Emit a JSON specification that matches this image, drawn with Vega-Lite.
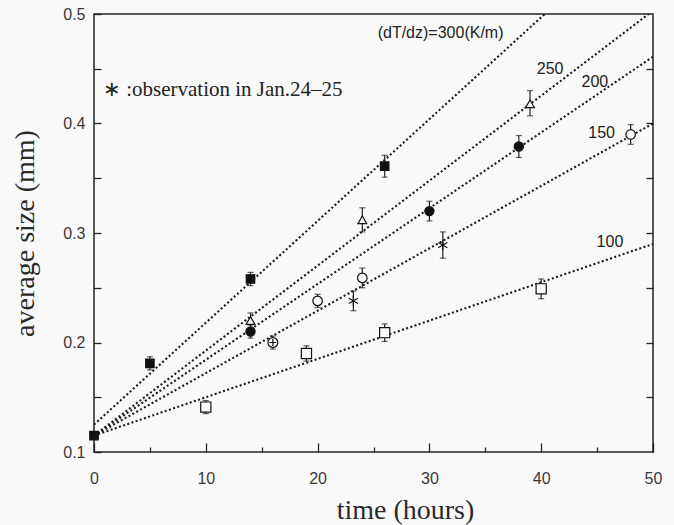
{
  "$schema": "https://vega.github.io/schema/vega-lite/v6.json",
  "width": 559,
  "height": 438,
  "autosize": "none",
  "padding": {"left": 94, "top": 14, "right": 21, "bottom": 73},
  "background": "#f9f9f9",
  "config": {
    "view": {"stroke": "#222", "strokeWidth": 1.5},
    "axis": {
      "domain": false,
      "grid": false,
      "labelFont": "Liberation Sans",
      "labelFontSize": 16,
      "labelColor": "#3a3a3a",
      "labelFlush": false,
      "labelOverlap": false,
      "tickColor": "#222",
      "tickWidth": 1.3,
      "titleFont": "Liberation Serif",
      "titleFontSize": 28,
      "titleFontWeight": "normal",
      "titleColor": "#2a2a2a"
    }
  },
  "datasets": {
    "lines": [
      {"g": "300", "x1": 0, "y1": 0.125, "x2": 50, "y2": 0.59},
      {"g": "250", "x1": 0, "y1": 0.115, "x2": 50, "y2": 0.503},
      {"g": "200", "x1": 0, "y1": 0.115, "x2": 50, "y2": 0.461},
      {"g": "150", "x1": 0, "y1": 0.115, "x2": 50, "y2": 0.40},
      {"g": "100", "x1": 0, "y1": 0.115, "x2": 50, "y2": 0.29}
    ],
    "pts": [
      {"x": 0, "y": 0.115, "lo": null, "hi": null, "s": "sq"},
      {"x": 5, "y": 0.181, "lo": 0.175, "hi": 0.187, "s": "sq"},
      {"x": 14, "y": 0.258, "lo": 0.252, "hi": 0.264, "s": "sq"},
      {"x": 26, "y": 0.361, "lo": 0.351, "hi": 0.371, "s": "sq"},
      {"x": 14, "y": 0.22, "lo": 0.213, "hi": 0.227, "s": "tri"},
      {"x": 24, "y": 0.312, "lo": 0.301, "hi": 0.323, "s": "tri"},
      {"x": 39, "y": 0.418, "lo": 0.407, "hi": 0.43, "s": "tri"},
      {"x": 14, "y": 0.21, "lo": 0.204, "hi": 0.216, "s": "dot"},
      {"x": 30, "y": 0.32, "lo": 0.311, "hi": 0.329, "s": "dot"},
      {"x": 38, "y": 0.379, "lo": 0.369, "hi": 0.389, "s": "dot"},
      {"x": 16, "y": 0.2, "lo": 0.194, "hi": 0.206, "s": "circplus"},
      {"x": 20, "y": 0.238, "lo": 0.232, "hi": 0.244, "s": "circ"},
      {"x": 24, "y": 0.259, "lo": 0.25, "hi": 0.268, "s": "circ"},
      {"x": 48, "y": 0.39, "lo": 0.381, "hi": 0.399, "s": "circ"},
      {"x": 10, "y": 0.141, "lo": 0.135, "hi": 0.147, "s": "sqo"},
      {"x": 19, "y": 0.19, "lo": 0.183, "hi": 0.197, "s": "sqo"},
      {"x": 26, "y": 0.209, "lo": 0.201, "hi": 0.217, "s": "sqo"},
      {"x": 40, "y": 0.249, "lo": 0.24, "hi": 0.258, "s": "sqo"},
      {"x": 23.2, "y": 0.238, "lo": 0.229, "hi": 0.247, "s": "ast"},
      {"x": 31.2, "y": 0.289, "lo": 0.277, "hi": 0.301, "s": "ast"}
    ],
    "labels": [
      {"x": 31.0, "y": 0.4826, "t": "(dT/dz)=300(K/m)"},
      {"x": 40.8, "y": 0.4498, "t": "250"},
      {"x": 44.8, "y": 0.4379, "t": "200"},
      {"x": 45.4, "y": 0.3913, "t": "150"},
      {"x": 46.15, "y": 0.2918, "t": "100"}
    ],
    "note": [
      {"x": 0.8, "y": 0.4306, "t": "∗ :observation in Jan.24–25"}
    ]
  },
  "layer": [
    {
      "data": {"name": "lines"},
      "mark": {"type": "rule", "clip": true, "strokeDash": [2, 2.4], "strokeWidth": 2.1, "color": "#1a1a1a"},
      "encoding": {
        "x": {
          "field": "x1", "type": "quantitative",
          "scale": {"domain": [0, 50], "nice": false, "zero": false},
          "axis": {
            "orient": "bottom", "values": [0, 10, 20, 30, 40, 50], "tickSize": -9, "labelPadding": 27,
            "title": "time (hours)", "titleX": 311, "titleY": 58, "titleBaseline": "middle", "titleAlign": "center"
          }
        },
        "y": {
          "field": "y1", "type": "quantitative",
          "scale": {"domain": [0.1, 0.5], "nice": false, "zero": false},
          "axis": {
            "orient": "left",
            "values": [0.1, 0.15, 0.2, 0.25, 0.3, 0.35, 0.4, 0.45, 0.5],
            "labelExpr": "abs(datum.value*10 - round(datum.value*10)) < 0.001 ? format(datum.value, '.1f') : ''",
            "tickSize": -7, "labelPadding": 16,
            "title": "average size (mm)", "titleX": -69, "titleY": 219, "titleAngle": -90,
            "titleBaseline": "middle", "titleAlign": "center"
          }
        },
        "x2": {"field": "x2"},
        "y2": {"field": "y2"}
      }
    },
    {
      "data": {"name": "pts"},
      "transform": [{"filter": "datum.lo != null"}],
      "mark": {"type": "errorbar", "color": "#222", "thickness": 1.2, "ticks": {"size": 6, "thickness": 1.2, "color": "#222"}},
      "encoding": {
        "x": {"field": "x", "type": "quantitative", "axis": null},
        "y": {"field": "lo", "type": "quantitative", "axis": null},
        "y2": {"field": "hi"}
      }
    },
    {
      "data": {"name": "pts"},
      "mark": {"type": "point", "filled": true, "stroke": "#111", "strokeWidth": 1.2, "opacity": 1},
      "encoding": {
        "x": {
          "field": "x", "type": "quantitative",
          "axis": {"orient": "bottom", "values": [5, 15, 25, 35, 45], "tickSize": -5, "labels": false, "title": null}
        },
        "y": {
          "field": "y", "type": "quantitative",
          "axis": {"orient": "right", "values": [0.15, 0.2, 0.25, 0.3, 0.35, 0.4, 0.45], "tickSize": -7, "labels": false, "title": null}
        },
        "shape": {
          "field": "s", "type": "nominal", "legend": null,
          "scale": {
            "domain": ["sq", "tri", "dot", "circ", "circplus", "sqo", "ast"],
            "range": ["square", "triangle-up", "circle", "circle", "M-1,0A1,1 0 1,1 1,0A1,1 0 1,1 -1,0ZM-0.7,0H0.7M0,-0.7V0.7", "square", "M0,-1V1M-0.87,-0.5L0.87,0.5M-0.87,0.5L0.87,-0.5"]
          }
        },
        "fill": {
          "field": "s", "type": "nominal", "legend": null,
          "scale": {
            "domain": ["sq", "tri", "dot", "circ", "circplus", "sqo", "ast"],
            "range": ["#111111", "#f9f9f9", "#111111", "#f9f9f9", "#f9f9f9", "#f9f9f9", "transparent"]
          }
        },
        "size": {
          "field": "s", "type": "nominal", "legend": null,
          "scale": {
            "domain": ["sq", "tri", "dot", "circ", "circplus", "sqo", "ast"],
            "range": [72, 110, 64, 72, 72, 66, 70]
          }
        }
      }
    },
    {
      "data": {"name": "labels"},
      "mark": {"type": "text", "font": "Liberation Sans", "fontSize": 16, "color": "#222", "align": "center", "baseline": "middle"},
      "encoding": {
        "x": {"field": "x", "type": "quantitative", "axis": null},
        "y": {"field": "y", "type": "quantitative", "axis": null},
        "text": {"field": "t"}
      }
    },
    {
      "data": {"name": "note"},
      "mark": {"type": "text", "font": "Liberation Serif", "fontSize": 21, "color": "#222", "align": "left", "baseline": "middle"},
      "encoding": {
        "x": {"field": "x", "type": "quantitative", "axis": null},
        "y": {"field": "y", "type": "quantitative", "axis": null},
        "text": {"field": "t"}
      }
    }
  ],
  "resolve": {"axis": {"x": "independent", "y": "independent"}}
}
